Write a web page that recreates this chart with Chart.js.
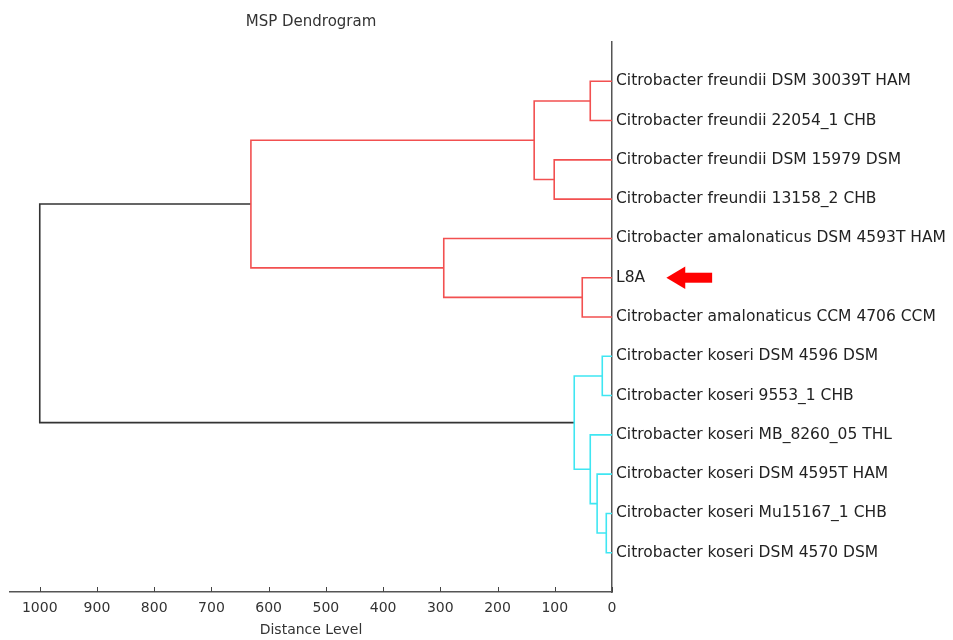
<!DOCTYPE html>
<html>
<head>
<meta charset="utf-8">
<title>MSP Dendrogram</title>
<script src="https://cdn.jsdelivr.net/npm/chart.js@4.4.1/dist/chart.umd.min.js"></script>
<style>
  html, body { margin: 0; padding: 0; background: #fff; }
  #wrap { width: 953px; height: 640px; }
</style>
</head>
<body>
<div id="wrap"><canvas id="myChart" width="953" height="640"></canvas></div>
<script>
// Hojas del dendrograma (de arriba a abajo)
const leaves = [
  'Citrobacter freundii DSM 30039T HAM',
  'Citrobacter freundii 22054_1 CHB',
  'Citrobacter freundii DSM 15979 DSM',
  'Citrobacter freundii 13158_2 CHB',
  'Citrobacter amalonaticus DSM 4593T HAM',
  'L8A',
  'Citrobacter amalonaticus CCM 4706 CCM',
  'Citrobacter koseri DSM 4596 DSM',
  'Citrobacter koseri 9553_1 CHB',
  'Citrobacter koseri MB_8260_05 THL',
  'Citrobacter koseri DSM 4595T HAM',
  'Citrobacter koseri Mu15167_1 CHB',
  'Citrobacter koseri DSM 4570 DSM'
];

// Uniones (estilo linkage): hijos izquierdo/derecho, nivel de distancia, color
// nodos 0..12 = hojas, 13.. = uniones en este orden
const mergeLeft   = [0, 2, 13, 5, 4, 15, 7, 11, 10, 9, 19, 18];
const mergeRight  = [1, 3, 14, 6, 16, 17, 8, 12, 20, 21, 22, 23];
const mergeHeight = [38, 101, 136, 52, 294, 631, 17, 10, 26, 38, 66, 1000];
const mergeColor  = ['red', 'red', 'red', 'red', 'red', 'red',
                     'cyan', 'cyan', 'cyan', 'cyan', 'cyan', 'black'];

// Eje de distancia
const xTicks = [1000, 900, 800, 700, 600, 500, 400, 300, 200, 100, 0];

// Flecha que señala L8A (en unidades de distancia)
const arrowTip = -95;
const arrowNeck = -128;
const arrowEnd = -175;
const arrowLeaf = 5;

const colores = { red: '#f25050', cyan: '#3fe6f2', black: '#333333' };

// --- CONSTRUIR SEGMENTOS ---
const nodeY = leaves.map((_, i) => i);
const nodeH = leaves.map(() => 0);
const datasets = [];

mergeHeight.forEach((h, k) => {
  const a = mergeLeft[k], b = mergeRight[k];
  const ya = nodeY[a], yb = nodeY[b];
  nodeY.push((ya + yb) / 2);
  nodeH.push(h);
  datasets.push({
    data: [
      { x: nodeH[a], y: ya },
      { x: h, y: ya },
      { x: h, y: yb },
      { x: nodeH[b], y: yb }
    ],
    borderColor: colores[mergeColor[k]],
    borderWidth: 1.6,
    pointRadius: 0,
    tension: 0,
    fill: false
  });
});

// Cuerpo de la flecha roja
datasets.push({
  data: [{ x: arrowNeck + 3, y: arrowLeaf }, { x: arrowEnd, y: arrowLeaf }],
  borderColor: '#ff0000',
  borderWidth: 10,
  pointRadius: 0,
  clip: false
});

// Punta de la flecha (fuera del área, se dibuja con las escalas)
const puntaFlecha = {
  id: 'puntaFlecha',
  afterDatasetsDraw(chart) {
    const sx = chart.scales.x, sy = chart.scales.y;
    const c = chart.ctx;
    const tip = sx.getPixelForValue(arrowTip);
    const neck = sx.getPixelForValue(arrowNeck);
    const yc = sy.getPixelForValue(arrowLeaf);
    const half = (neck - tip) * 0.6;
    c.save();
    c.fillStyle = '#ff0000';
    c.beginPath();
    c.moveTo(tip, yc);
    c.lineTo(neck, yc - half);
    c.lineTo(neck, yc + half);
    c.closePath();
    c.fill();
    c.restore();
  }
};

// Marcas del eje X hacia arriba
const marcasArriba = {
  id: 'marcasArriba',
  afterDraw(chart) {
    const sx = chart.scales.x;
    const c = chart.ctx;
    c.save();
    c.strokeStyle = '#444';
    c.lineWidth = 1;
    xTicks.forEach(v => {
      const px = Math.round(sx.getPixelForValue(v)) + 0.5;
      c.beginPath();
      c.moveTo(px, sx.top);
      c.lineTo(px, sx.top - 5);
      c.stroke();
    });
    c.restore();
  }
};

const ctx = document.getElementById('myChart');
new Chart(ctx, {
  type: 'line',
  data: { datasets },
  plugins: [marcasArriba, puntaFlecha],
  options: {
    responsive: false,
    animation: false,
    layout: { padding: { left: 10, right: 0, top: 0, bottom: 0 } },
    plugins: {
      legend: { display: false },
      tooltip: { enabled: false },
      title: {
        display: true,
        text: 'MSP Dendrogram',
        fullSize: false,
        color: '#333',
        font: { family: 'DejaVu Sans', size: 15, weight: 'normal' },
        padding: { top: 13, bottom: 11 }
      }
    },
    scales: {
      x: {
        type: 'linear',
        reverse: true,
        min: 0,
        max: 1052,
        afterBuildTicks: (scale) => { scale.ticks = xTicks.map(v => ({ value: v })); },
        afterFit: (scale) => { scale.height = 48; },
        grid: { display: false, drawTicks: false },
        border: { display: true, color: '#555', width: 1.5 },
        ticks: {
          color: '#333',
          padding: 8,
          maxRotation: 0,
          font: { family: 'DejaVu Sans', size: 14 },
          callback: (v) => String(v)
        },
        title: {
          display: true,
          text: 'Distance Level',
          color: '#333',
          font: { family: 'DejaVu Sans', size: 14 },
          padding: { top: 0, bottom: 1 }
        }
      },
      y: {
        type: 'linear',
        position: 'right',
        reverse: true,
        min: -1,
        max: 13,
        afterFit: (scale) => { scale.width = 341; },
        grid: { display: false, drawTicks: false },
        border: { display: true, color: '#555', width: 1.5 },
        ticks: {
          stepSize: 1,
          autoSkip: false,
          padding: 4,
          color: '#222',
          font: { family: 'DejaVu Sans', size: 15.5 },
          callback: (v) => leaves[v] || ''
        }
      }
    }
  }
});
</script>
</body>
</html>
